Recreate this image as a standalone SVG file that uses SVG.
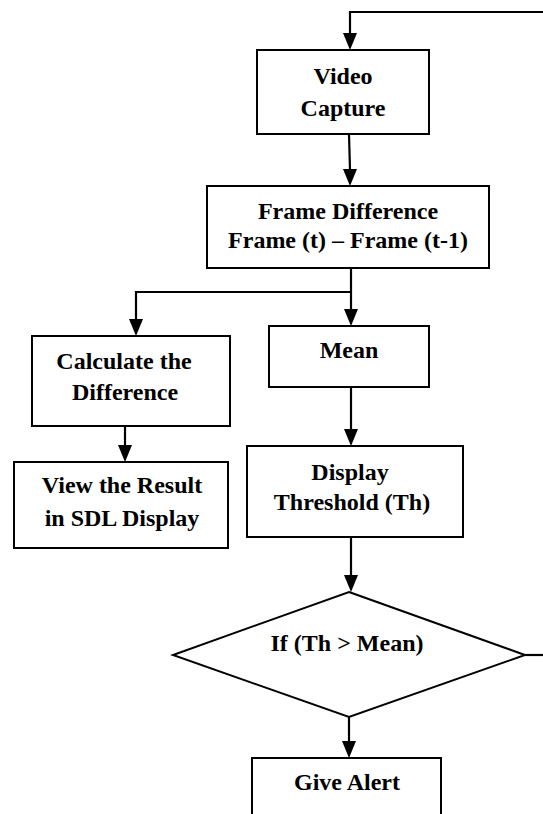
<svg xmlns="http://www.w3.org/2000/svg" width="543" height="814" viewBox="0 0 543 814">
<defs>
<style>
.box{fill:#fff;stroke:#000;stroke-width:2}
.ln{fill:none;stroke:#000;stroke-width:2.2}
.t{font-family:"Liberation Serif","Times New Roman",serif;font-weight:bold;font-size:24px;text-anchor:middle;fill:#000}
</style>
</defs>
<rect width="543" height="814" fill="#fff"/>
<g id="connectors">
<path class="ln" d="M543,12 L350,12 L350,34"/>
<path d="M343,33 L357,33 L350,50 Z"/>
<path class="ln" d="M349,134 L350,170"/>
<path d="M343,169 L357,169 L350,186 Z"/>
<path class="ln" d="M351,268 L351,310"/>
<path d="M344,309 L358,309 L351,326 Z"/>
<path class="ln" d="M351,292 L136,292 L136,320"/>
<path d="M129,319 L143,319 L136,336 Z"/>
<path class="ln" d="M125,426 L125,446"/>
<path d="M118,445 L132,445 L125,462 Z"/>
<path class="ln" d="M351,387 L351,430"/>
<path d="M344,429 L358,429 L351,446 Z"/>
<path class="ln" d="M351,537 L351,576"/>
<path d="M344,575 L358,575 L351,592 Z"/>
<path class="ln" d="M349,717 L349,742"/>
<path d="M342,741 L356,741 L349,758 Z"/>
<path class="ln" d="M525,655 L543,655"/>
</g>
<g id="video-capture">
<rect class="box" x="257" y="50" width="172" height="84"/>
<text class="t" x="343" y="84">Video</text>
<text class="t" x="343" y="116">Capture</text>
</g>
<g id="frame-difference">
<rect class="box" x="207" y="186" width="282" height="82"/>
<text class="t" x="348" y="219">Frame Difference</text>
<text class="t" x="348" y="248">Frame (t) – Frame (t-1)</text>
</g>
<g id="calculate-difference">
<rect class="box" x="32" y="336" width="198" height="90"/>
<text class="t" x="124" y="369">Calculate the</text>
<text class="t" x="125" y="400">Difference</text>
</g>
<g id="view-result">
<rect class="box" x="14" y="462" width="214" height="86"/>
<text class="t" x="122" y="493">View the Result</text>
<text class="t" x="122" y="526">in SDL Display</text>
</g>
<g id="mean">
<rect class="box" x="269" y="326" width="160" height="61"/>
<text class="t" x="349" y="358">Mean</text>
</g>
<g id="display-threshold">
<rect class="box" x="247" y="446" width="216" height="91"/>
<text class="t" x="350" y="480">Display</text>
<text class="t" x="352" y="510">Threshold (Th)</text>
</g>
<g id="decision">
<polygon class="box" points="349,592 525,655 349,717 173,655"/>
<text class="t" x="347" y="651">If (Th &gt; Mean)</text>
</g>
<g id="give-alert">
<rect class="box" x="252" y="758" width="189" height="70"/>
<text class="t" x="347" y="790">Give Alert</text>
</g>
</svg>
